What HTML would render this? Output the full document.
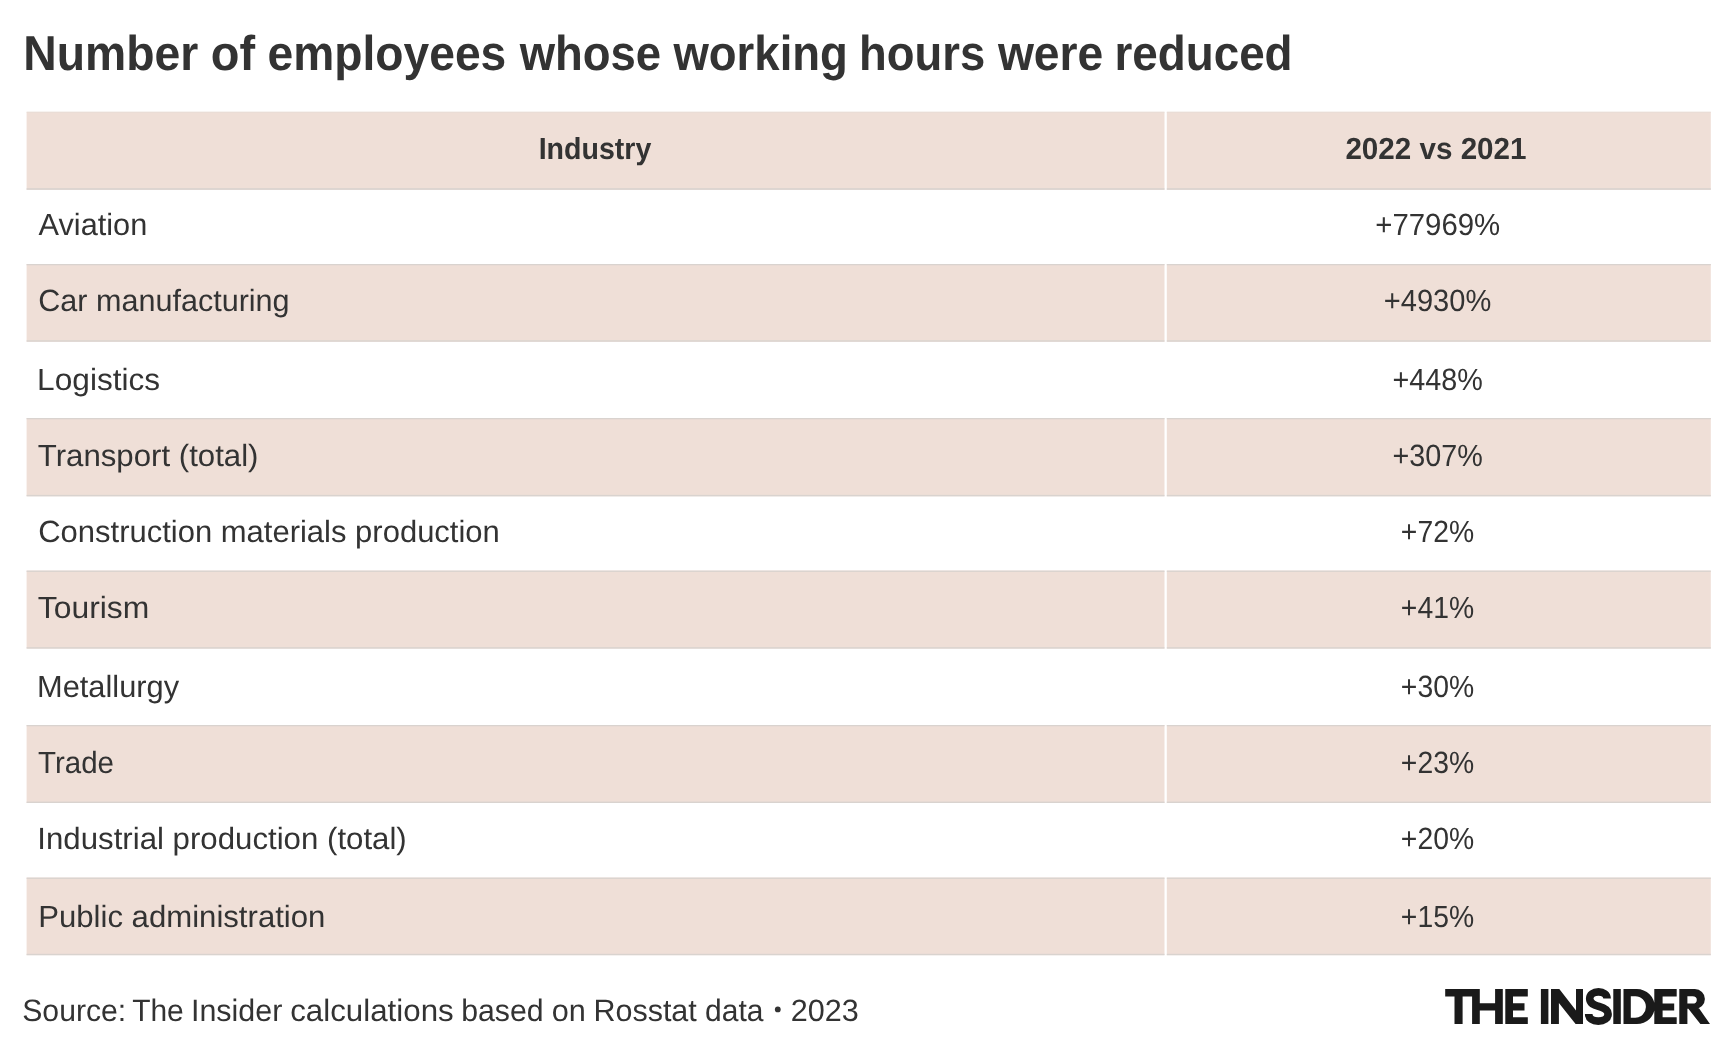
<!DOCTYPE html>
<html><head><meta charset="utf-8"><title>Number of employees whose working hours were reduced</title>
<style>
html,body{margin:0;padding:0;background:#fff;}
body{width:1732px;height:1055px;overflow:hidden;position:relative;}
svg{position:absolute;left:0;top:0;display:block;will-change:transform;}
text{font-family:"Liberation Sans",sans-serif;fill:#333333;}
</style></head><body>
<svg width="1732" height="1055" viewBox="0 0 1732 1055" text-rendering="geometricPrecision">
<rect x="0" y="0" width="1732" height="1055" fill="#fff"/>
<g shape-rendering="auto"><rect x="26.6" y="111.8" width="1137.90" height="78.00" fill="#efdfd7"/><rect x="1166.8" y="111.8" width="544.00" height="78.00" fill="#efdfd7"/><rect x="26.6" y="188.20000000000002" width="1137.90" height="1.60" fill="#d9d3cf"/><rect x="1166.8" y="188.20000000000002" width="544.00" height="1.60" fill="#d9d3cf"/><rect x="26.6" y="111.8" width="1137.90" height="0.80" fill="#e6dcd6"/><rect x="1166.8" y="111.8" width="544.00" height="0.80" fill="#e6dcd6"/><rect x="26.6" y="264.0" width="1137.90" height="77.70" fill="#efdfd7"/><rect x="1166.8" y="264.0" width="544.00" height="77.70" fill="#efdfd7"/><rect x="26.6" y="264.0" width="1137.90" height="1.30" fill="#d9d3cf"/><rect x="1166.8" y="264.0" width="544.00" height="1.30" fill="#d9d3cf"/><rect x="26.6" y="340.3" width="1137.90" height="1.40" fill="#d9d3cf"/><rect x="1166.8" y="340.3" width="544.00" height="1.40" fill="#d9d3cf"/><rect x="26.6" y="418.0" width="1137.90" height="78.30" fill="#efdfd7"/><rect x="1166.8" y="418.0" width="544.00" height="78.30" fill="#efdfd7"/><rect x="26.6" y="418.0" width="1137.90" height="1.30" fill="#d9d3cf"/><rect x="1166.8" y="418.0" width="544.00" height="1.30" fill="#d9d3cf"/><rect x="26.6" y="494.90000000000003" width="1137.90" height="1.40" fill="#d9d3cf"/><rect x="1166.8" y="494.90000000000003" width="544.00" height="1.40" fill="#d9d3cf"/><rect x="26.6" y="570.6" width="1137.90" height="78.00" fill="#efdfd7"/><rect x="1166.8" y="570.6" width="544.00" height="78.00" fill="#efdfd7"/><rect x="26.6" y="570.6" width="1137.90" height="1.30" fill="#d9d3cf"/><rect x="1166.8" y="570.6" width="544.00" height="1.30" fill="#d9d3cf"/><rect x="26.6" y="647.2" width="1137.90" height="1.40" fill="#d9d3cf"/><rect x="1166.8" y="647.2" width="544.00" height="1.40" fill="#d9d3cf"/><rect x="26.6" y="725.0" width="1137.90" height="78.00" fill="#efdfd7"/><rect x="1166.8" y="725.0" width="544.00" height="78.00" fill="#efdfd7"/><rect x="26.6" y="725.0" width="1137.90" height="1.30" fill="#d9d3cf"/><rect x="1166.8" y="725.0" width="544.00" height="1.30" fill="#d9d3cf"/><rect x="26.6" y="801.6" width="1137.90" height="1.40" fill="#d9d3cf"/><rect x="1166.8" y="801.6" width="544.00" height="1.40" fill="#d9d3cf"/><rect x="26.6" y="877.6" width="1137.90" height="77.60" fill="#efdfd7"/><rect x="1166.8" y="877.6" width="544.00" height="77.60" fill="#efdfd7"/><rect x="26.6" y="877.6" width="1137.90" height="1.30" fill="#d9d3cf"/><rect x="1166.8" y="877.6" width="544.00" height="1.30" fill="#d9d3cf"/><rect x="26.6" y="953.8000000000001" width="1137.90" height="1.40" fill="#d9d3cf"/><rect x="1166.8" y="953.8000000000001" width="544.00" height="1.40" fill="#d9d3cf"/></g>
<g><text id="t1" x="23.26" y="69.6" font-size="49.0" font-weight="700" textLength="175.03" lengthAdjust="spacingAndGlyphs">Number</text><text id="t2" x="210.74" y="69.6" font-size="49.0" font-weight="700" textLength="44.30" lengthAdjust="spacingAndGlyphs">of</text><text id="t3" x="267.58" y="69.6" font-size="49.0" font-weight="700" textLength="238.72" lengthAdjust="spacingAndGlyphs">employees</text><text id="t4" x="519.70" y="69.6" font-size="49.0" font-weight="700" textLength="141.47" lengthAdjust="spacingAndGlyphs">whose</text><text id="t5" x="673.39" y="69.6" font-size="49.0" font-weight="700" textLength="174.52" lengthAdjust="spacingAndGlyphs">working</text><text id="t6" x="859.02" y="69.6" font-size="49.0" font-weight="700" textLength="126.14" lengthAdjust="spacingAndGlyphs">hours</text><text id="t7" x="997.89" y="69.6" font-size="49.0" font-weight="700" textLength="105.40" lengthAdjust="spacingAndGlyphs">were</text><text id="t8" x="1114.49" y="69.6" font-size="49.0" font-weight="700" textLength="178.11" lengthAdjust="spacingAndGlyphs">reduced</text><text id="h1" x="538.69" y="158.8" font-size="30.5" font-weight="700" textLength="112.64" lengthAdjust="spacingAndGlyphs">Industry</text><text id="h2" x="1345.41" y="159.2" font-size="30.5" font-weight="700" textLength="181.07" lengthAdjust="spacingAndGlyphs">2022 vs 2021</text><text id="l1" x="38.59" y="235.3" font-size="30.7" font-weight="400" textLength="108.64" lengthAdjust="spacingAndGlyphs">Aviation</text><text id="l2" x="38.20" y="311.4" font-size="30.7" font-weight="400" textLength="251.45" lengthAdjust="spacingAndGlyphs">Car manufacturing</text><text id="l3" x="37.11" y="389.8" font-size="30.7" font-weight="400" textLength="123.06" lengthAdjust="spacingAndGlyphs">Logistics</text><text id="l4" x="37.79" y="465.8" font-size="30.7" font-weight="400" textLength="220.70" lengthAdjust="spacingAndGlyphs">Transport (total)</text><text id="l5" x="38.18" y="541.5" font-size="30.7" font-weight="400" textLength="461.66" lengthAdjust="spacingAndGlyphs">Construction materials production</text><text id="l6" x="37.78" y="618.0" font-size="30.7" font-weight="400" textLength="111.53" lengthAdjust="spacingAndGlyphs">Tourism</text><text id="l7" x="36.99" y="696.7" font-size="30.7" font-weight="400" textLength="142.08" lengthAdjust="spacingAndGlyphs">Metallurgy</text><text id="l8" x="38.01" y="772.7" font-size="30.7" font-weight="400" textLength="75.98" lengthAdjust="spacingAndGlyphs">Trade</text><text id="l9" x="37.35" y="848.7" font-size="30.7" font-weight="400" textLength="369.41" lengthAdjust="spacingAndGlyphs">Industrial production (total)</text><text id="l10" x="38.16" y="926.7" font-size="30.7" font-weight="400" textLength="287.23" lengthAdjust="spacingAndGlyphs">Public administration</text><text id="v1" x="1375.24" y="235.2" font-size="30.7" font-weight="400" textLength="124.96" lengthAdjust="spacingAndGlyphs">+77969%</text><text id="v2" x="1383.85" y="311.4" font-size="30.7" font-weight="400" textLength="107.39" lengthAdjust="spacingAndGlyphs">+4930%</text><text id="v3" x="1392.48" y="389.8" font-size="30.7" font-weight="400" textLength="90.29" lengthAdjust="spacingAndGlyphs">+448%</text><text id="v4" x="1392.48" y="465.8" font-size="30.7" font-weight="400" textLength="90.29" lengthAdjust="spacingAndGlyphs">+307%</text><text id="v5" x="1400.87" y="541.5" font-size="30.7" font-weight="400" textLength="73.23" lengthAdjust="spacingAndGlyphs">+72%</text><text id="v6" x="1400.87" y="618.2" font-size="30.7" font-weight="400" textLength="73.23" lengthAdjust="spacingAndGlyphs">+41%</text><text id="v7" x="1400.87" y="696.7" font-size="30.7" font-weight="400" textLength="73.23" lengthAdjust="spacingAndGlyphs">+30%</text><text id="v8" x="1400.87" y="772.8" font-size="30.7" font-weight="400" textLength="73.23" lengthAdjust="spacingAndGlyphs">+23%</text><text id="v9" x="1400.87" y="848.8" font-size="30.7" font-weight="400" textLength="73.23" lengthAdjust="spacingAndGlyphs">+20%</text><text id="v10" x="1400.87" y="927.0" font-size="30.7" font-weight="400" textLength="73.23" lengthAdjust="spacingAndGlyphs">+15%</text><text id="s1" x="22.23" y="1020.5" font-size="30.9" font-weight="400" textLength="104.02" lengthAdjust="spacingAndGlyphs">Source:</text><text id="s2" x="132.15" y="1020.5" font-size="30.9" font-weight="400" textLength="51.63" lengthAdjust="spacingAndGlyphs">The</text><text id="s3" x="190.93" y="1020.5" font-size="30.9" font-weight="400" textLength="91.38" lengthAdjust="spacingAndGlyphs">Insider</text><text id="s4" x="290.19" y="1020.5" font-size="30.9" font-weight="400" textLength="163.54" lengthAdjust="spacingAndGlyphs">calculations</text><text id="s5" x="461.18" y="1020.5" font-size="30.9" font-weight="400" textLength="82.42" lengthAdjust="spacingAndGlyphs">based</text><text id="s6" x="551.73" y="1020.5" font-size="30.9" font-weight="400" textLength="34.12" lengthAdjust="spacingAndGlyphs">on</text><text id="s7" x="593.45" y="1020.5" font-size="30.9" font-weight="400" textLength="103.36" lengthAdjust="spacingAndGlyphs">Rosstat</text><text id="s8" x="705.05" y="1020.5" font-size="30.9" font-weight="400" textLength="58.40" lengthAdjust="spacingAndGlyphs">data</text><text id="src2" x="790.78" y="1020.6" font-size="30.9" font-weight="400" textLength="68.05" lengthAdjust="spacingAndGlyphs">2023</text></g>
<circle cx="777.8" cy="1009.4" r="2.9" fill="#333333"/>
<g fill="#1a1a1a"><path d="M1445.2 989.1H1479.8V996.5H1445.2ZM1454.5 989.1H1462.6V1024.1H1454.5ZM1472.1 989.1H1479.8V1024.1H1472.1ZM1495.1 989.1H1502.8V1024.1H1495.1ZM1475.0 1003.3H1499.0V1010.4H1475.0ZM1505.3 989.1H1513.0V1024.1H1505.3ZM1508.0 989.1H1527.8V996.5H1508.0ZM1508.0 1003.3H1524.5V1010.4H1508.0ZM1508.0 1017.2H1527.8V1024.1H1508.0ZM1540.9 989.1H1548.4V1024.1H1540.9ZM1551.0 989.1H1559.3L1576.0 1010.6V989.1H1583.0V1024.1H1575.6L1558.9 1002.9V1024.1H1551.0ZM1613.3 989.1H1620.8V1024.1H1613.3ZM1623.5 989.1H1636.8A18.0 17.5 0 0 1 1636.8 1024.1H1623.5ZM1630.8 996.2V1017.7H1635.3A10.6 10.75 0 0 0 1635.3 996.2ZM1654.3 989.1H1662.6V1024.1H1654.3ZM1658.0 989.1H1676.7V996.5H1658.0ZM1658.0 1003.4H1674.2V1010.6H1658.0ZM1658.0 1017.2H1676.7V1024.1H1658.0ZM1679.3 989.1H1694.9A10 9.85 0 0 1 1694.9 1008.8H1687.4V1024.1H1679.3ZM1687.4 996.2V1003.6H1692.5A4.3 3.7 0 0 0 1692.5 996.2ZM1687.0 1004.5L1696.0 1004.5L1699.0 1008.3L1710.0 1024.1H1700.4L1688.0 1008.3Z"/><path d="M1607.1 998.6C1607.1 994.5 1603.5 991.9 1598.5 991.9C1593.3 991.9 1589.7 994.6 1589.7 998.6C1589.7 1003.5 1594 1005 1598.5 1006.3C1603.5 1007.6 1608.1 1009.2 1608.1 1014C1608.1 1018.5 1604 1021.1 1598.3 1021.1C1592.5 1021.1 1588.7 1018.5 1588.7 1014" fill="none" stroke="#1a1a1a" stroke-width="7.6"/></g>
</svg>
</body></html>
